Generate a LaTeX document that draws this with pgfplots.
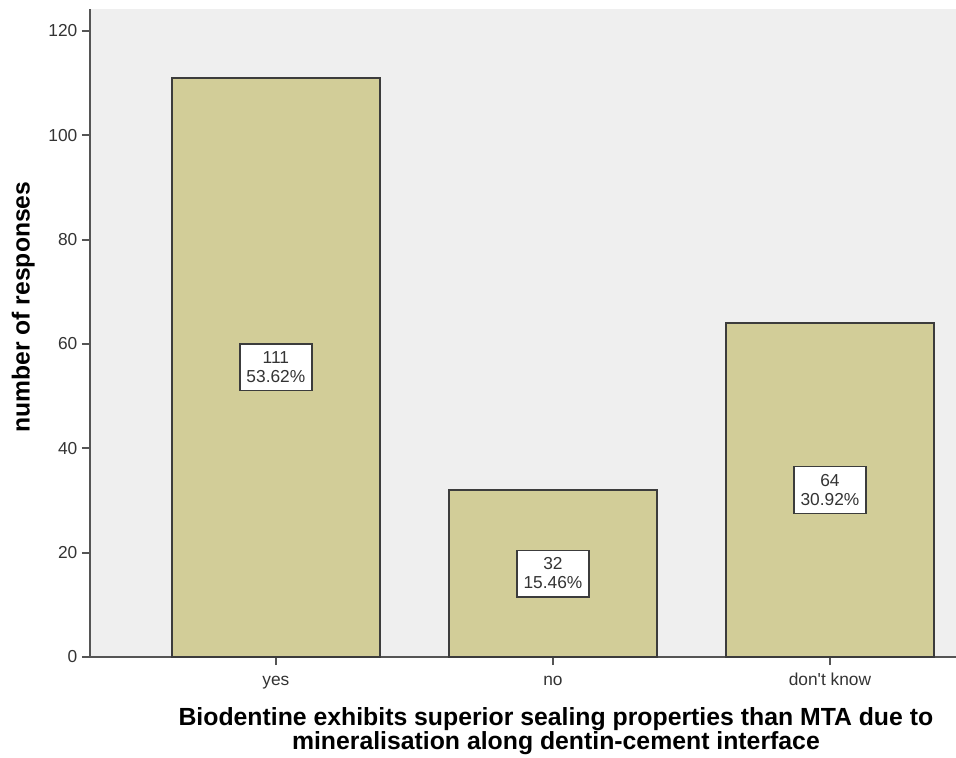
\documentclass[border=0pt]{standalone}
\usepackage{pgfplots}
\pgfplotsset{compat=1.18}
\usepackage{fontspec}
\setmainfont{Liberation Sans}

\definecolor{panel}{HTML}{EFEFEF}
\definecolor{barfill}{RGB}{210,205,152}
\definecolor{edge}{HTML}{3C3C3C}
\definecolor{axcol}{HTML}{555555}
\definecolor{txt}{HTML}{333333}

\begin{document}
\begin{tikzpicture}
	\begin{axis}[
		name=ax,
		scale only axis,
		width=649.5pt, height=486pt,
		axis x line*=bottom,
		axis y line*=left,
		axis line style={axcol, line width=1.5pt},
		axis background/.style={fill=panel},
		xmin=-0.671, xmax=2.455,
		ymin=0, ymax=124.2,
		xtick={0,1,2},
		xticklabels={yes,no,don\textquotesingle t know},
		ytick={0,20,40,60,80,100,120},
		tick align=outside,
		major tick length=6pt,
		tick style={axcol, line width=1.5pt},
		/pgf/number format/assume math mode=true,
		ticklabel style={font=\fontsize{13}{15}\selectfont, text=txt},
		xticklabel style={text height=9.5pt, text depth=3pt, yshift=-2.5pt},
		xlabel={Biodentine exhibits superior sealing properties than MTA due to\\mineralisation along dentin-cement interface},
		xlabel style={at={(axis description cs:0.538,0)}, anchor=center, yshift=-55.5pt,
			align=center, font=\fontsize{18.6}{18}\selectfont\bfseries},
		ylabel={number of responses},
		ylabel style={at={(axis description cs:-0.077,0.54)}, anchor=center,
			font=\fontsize{18.5}{18}\selectfont\bfseries},
		clip=true,
		]
		% counts
		\addplot [ybar, bar width=0.75, fill=barfill, draw=edge, line width=1.3pt] coordinates {
			(0,111)
			(1,32)
			(2,64)};
		% boxed labels at half height
		\addplot [draw=none, nodes near coords, point meta=explicit symbolic,
			every node near coord/.style={anchor=center, fill=white, draw=edge, line width=1pt,
				align=center, text=txt, minimum width=54pt, minimum height=35pt, inner sep=1pt,
				font=\fontsize{13}{14.25}\selectfont}] coordinates {
			(0,55.5) [111\\53.62\%]
			(1,16) [32\\15.46\%]
			(2,32) [64\\30.92\%]};
	\end{axis}
	\pgfresetboundingbox
	\path ([xshift=-67.5pt, yshift=-75pt]ax.south west) rectangle ([yshift=6.75pt]ax.north east);
\end{tikzpicture}
\end{document}
